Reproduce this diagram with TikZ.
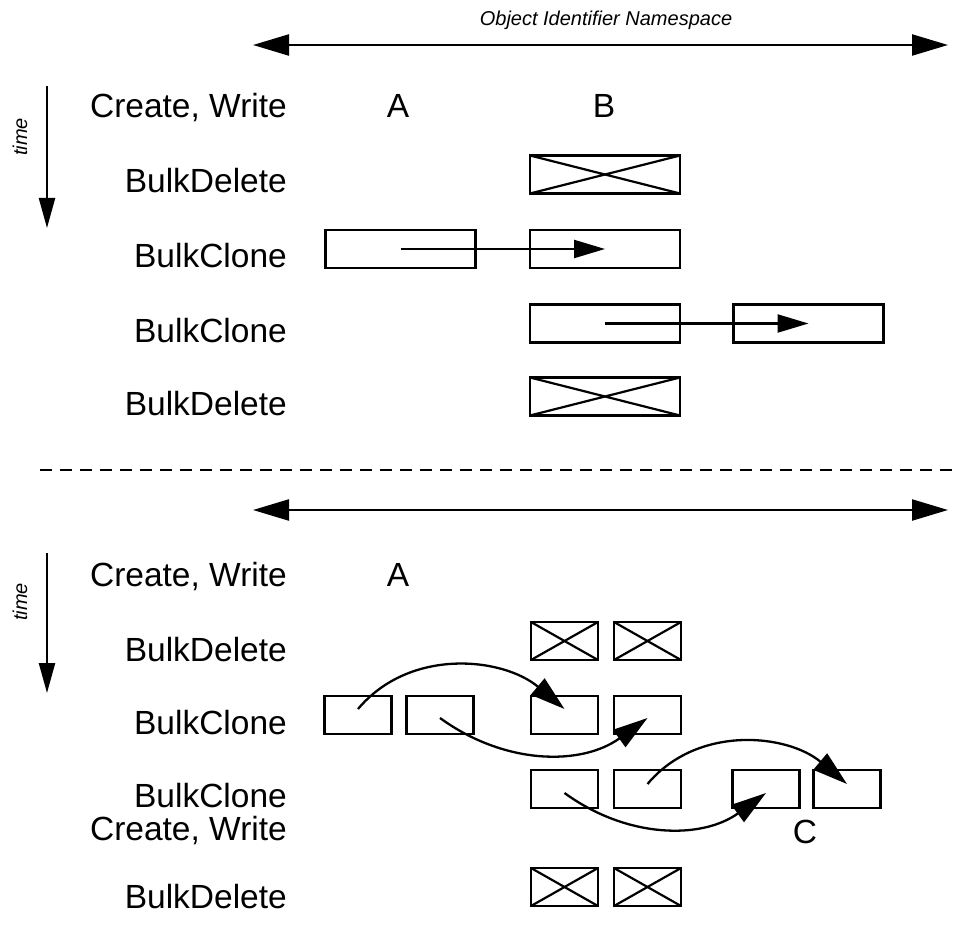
\documentclass[tikz,border=0pt]{standalone}
\usepackage{fontspec}
\setmainfont{Liberation Sans}
\usetikzlibrary{arrows.meta}
\begin{document}
\begin{tikzpicture}[x=1pt,y=1pt,
  lbl/.style={font=\fontsize{33.5}{40}\selectfont, anchor=base east, inner sep=0pt},
  letter/.style={font=\fontsize{33.5}{40}\selectfont, anchor=base, inner sep=0pt},
  sm/.style={font=\itshape\fontsize{20}{24}\selectfont, inner sep=0pt},
  bx/.style={draw, line width=2.4pt, inner sep=0pt, minimum height=38pt},
  big/.style={bx, minimum width=150pt},
  small/.style={bx, minimum width=67pt},
  crossed/.style={path picture={\draw[line width=2.2pt]
     (path picture bounding box.north west) -- (path picture bounding box.south east)
     (path picture bounding box.south west) -- (path picture bounding box.north east);}},
  ln/.style={line width=2.3pt},
  nsarrow/.style={ln, {Triangle[length=36pt,width=21pt]}-{Triangle[length=36pt,width=21pt]}},
  timearrow/.style={ln, -{Triangle[length=30pt,width=16pt]}},
  movearrow/.style={ln, -{Triangle[length=31pt,width=18pt]}},
  curvearrow/.style={ln, -{Triangle[length=35pt,width=21pt]}},
  divider/.style={line width=2.3pt, dash pattern=on 12pt off 8pt}
]
\useasboundingbox (0,0) rectangle (969,-928);

% ---------- top section ----------
\node[sm, anchor=base] (ns) at (606,-26) {Object Identifier Namespace};
\coordinate (nsL) at (253,-45);
\coordinate (nsR) at (948,-45);
\draw[nsarrow] (nsL) -- (nsR);

\node[sm, rotate=90] (time1) at (20,-137) {time};
\coordinate (t1a) at (47,-86);
\coordinate (t1b) at (47,-228);
\draw[timearrow] (t1a) -- (t1b);

\node[lbl] (l1) at (287,-118) {Create, Write};
\node[lbl] (l2) at (287,-193) {BulkDelete};
\node[lbl] (l3) at (287,-267) {BulkClone};
\node[lbl] (l4) at (287,-342) {BulkClone};
\node[lbl] (l5) at (287,-415) {BulkDelete};

\node[letter] (A1) at (398,-118) {A};
\node[letter] (B1) at (604,-118) {B};

\node[big, crossed] (d1) at (605,-174.5) {};
\node[big] (c1s) at (400.5,-249) {};
\node[big] (c1t) at (605,-249) {};
\node[big] (c2s) at (605,-323.5) {};
\node[big] (c2t) at (808.5,-323.5) {};
\node[big, crossed] (d2) at (605,-396.5) {};

\draw[movearrow] (c1s.center) -- (c1t.center);
\draw[movearrow] (c2s.center) -- (c2t.center);

% ---------- divider ----------
\coordinate (dvL) at (40,-470);
\coordinate (dvR) at (952,-470);
\draw[divider] (dvL) -- (dvR);

% ---------- bottom section ----------
\coordinate (ns2L) at (253,-510);
\coordinate (ns2R) at (948,-510);
\draw[nsarrow] (ns2L) -- (ns2R);

\node[sm, rotate=90] (time2) at (20,-602) {time};
\coordinate (t2a) at (47,-553);
\coordinate (t2b) at (47,-693);
\draw[timearrow] (t2a) -- (t2b);

\node[lbl] (m1) at (287,-586) {Create, Write};
\node[lbl] (m2) at (287,-661) {BulkDelete};
\node[lbl] (m3) at (287,-734) {BulkClone};
\node[lbl] (m4) at (287,-807) {BulkClone};
\node[lbl] (m5) at (287,-840) {Create, Write};
\node[lbl] (m6) at (287,-908) {BulkDelete};

\node[letter] (A2) at (398,-586) {A};
\node[letter] (C2) at (805,-843) {C};

% row 1 : deleted
\node[small, crossed] (r1a) at (564.5,-641) {};
\node[small, crossed] (r1b) at (647.5,-641) {};
% row 2
\node[small] (r2a) at (358,-715) {};
\node[small] (r2b) at (440,-715) {};
\node[small] (r2c) at (564.5,-715) {};
\node[small] (r2d) at (647.5,-715) {};
% row 3
\node[small] (r3a) at (564.5,-789) {};
\node[small] (r3b) at (647.5,-789) {};
\node[small] (r3c) at (766,-789) {};
\node[small] (r3d) at (847,-789) {};
% row 4 : deleted
\node[small, crossed] (r4a) at (564.5,-887) {};
\node[small, crossed] (r4b) at (647.5,-887) {};

\draw[curvearrow] ([yshift=6pt]r2a.center) to[out=50,in=140] ([yshift=6pt]r2c.center);
\draw[curvearrow] ([yshift=-3pt]r2b.center) to[out=-36,in=-144] ([yshift=-3pt]r2d.center);
\draw[curvearrow] ([yshift=5pt]r3b.center) to[out=50,in=140] ([yshift=5pt]r3d.center);
\draw[curvearrow] ([yshift=-4pt]r3a.center) to[out=-36,in=-144] ([yshift=-4pt]r3c.center);
\end{tikzpicture}
\end{document}
